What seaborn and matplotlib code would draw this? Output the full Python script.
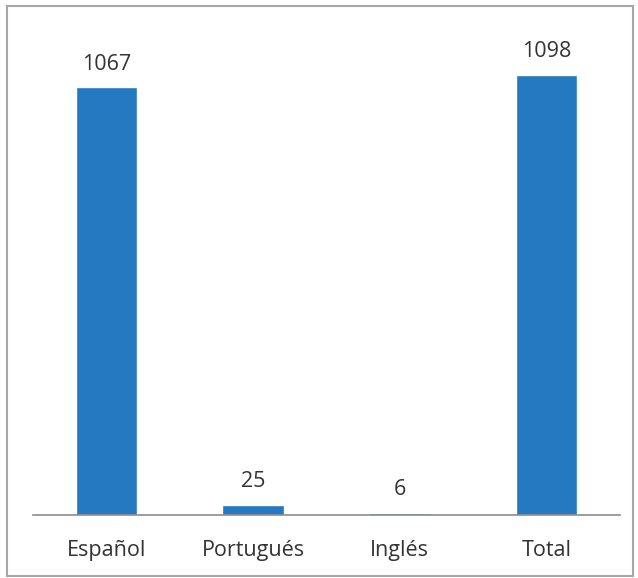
import pandas as pd
import matplotlib
matplotlib.use("Agg")
import matplotlib.pyplot as plt
import seaborn as sns
from matplotlib.patches import Rectangle

idiomas = ["Español", "Portugués", "Inglés", "Total"]
cantidad = [1067, 25, 6, 1098]

data = pd.DataFrame({"idioma": idiomas, "cantidad": cantidad})

sns.set_style("white")
plt.rcParams['font.family'] = ['Open Sans', 'DejaVu Sans']

fig = plt.figure(figsize=(6.38, 5.78), dpi=100)
ax = fig.add_axes([33/638, 63/578, 587/638, 495/578])
sns.barplot(data=data, x="idioma", y="cantidad", color="#2479c0",
            saturation=1, width=0.42, ax=ax)

for i, v in enumerate(cantidad):
    ax.annotate(str(v), (i, v), xytext=(0, 9), textcoords="offset points",
                ha="center", va="bottom", fontsize=15.5, color="#333333")

ax.set_ylim(0, 1235)
ax.set_xlim(-0.5, 3.5)
ax.set_xlabel("")
ax.set_ylabel("")
ax.set_yticks([])
ax.tick_params(axis="x", length=0, pad=18, labelsize=15.5, labelcolor="#333333")
for s in ["top", "right", "left"]:
    ax.spines[s].set_visible(False)
ax.spines["bottom"].set_color("#8c8c8c")
ax.spines["bottom"].set_linewidth(1.2)

# marco gris alrededor de la figura
fig.patches.append(Rectangle((7/638, 2/578), 626/638, 570/578, transform=fig.transFigure,
                             fill=False, edgecolor="#a6a6a6", linewidth=1.5))

fig.savefig("out.png", dpi=100)
